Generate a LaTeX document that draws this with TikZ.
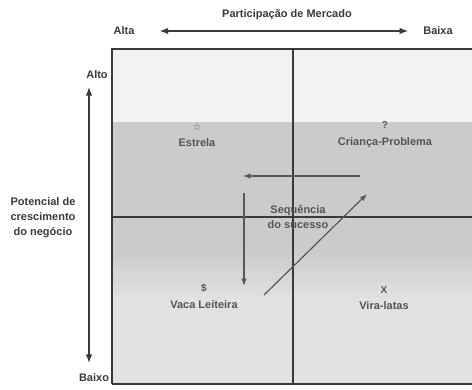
\documentclass[tikz,border=0pt]{standalone}
\usepackage{fontspec}
\setmainfont{Liberation Sans}
\newfontfamily\symfont{DejaVu Sans}
\usepackage{xcolor}
\usetikzlibrary{arrows.meta,positioning}
\definecolor{bandtop}{HTML}{F2F2F2}
\definecolor{bandmid}{HTML}{CBCBCB}
\definecolor{bandlow}{HTML}{E2E2E2}
\definecolor{darkgray}{HTML}{3A3A3A}
\definecolor{textgray}{HTML}{555555}
\tikzset{
  axislabel/.style={font=\bfseries\fontsize{11}{12}\selectfont,text=darkgray,inner sep=1pt},
  quadlabel/.style={font=\bfseries\fontsize{11}{12}\selectfont,text=textgray,align=center,inner sep=1pt},
  quadmark/.style={font=\bfseries\fontsize{10}{11}\selectfont,text=textgray,inner sep=1pt},
  axisarrow/.style={{Latex[length=3mm]}-{Latex[length=3mm]},line width=1.2pt,draw=darkgray},
  flowarrow/.style={-{Latex[length=2.6mm]},line width=1.2pt,draw=darkgray!85},
  gridline/.style={draw=darkgray,line width=1.2pt}
}
\begin{document}
\begin{tikzpicture}[x=1pt,y=-1pt]
\useasboundingbox (0,0) rectangle (472,390);
% bands
\fill[bandtop] (112,49) rectangle (472,122);
\fill[bandmid] (112,122) rectangle (472,250);
\shade[top color=bandmid,bottom color=bandlow] (112,250) rectangle (472,300);
\fill[bandlow] (112,300) rectangle (472,384);
% frame
\draw[gridline] (472,49) -- (112,49) -- (112,384);
\draw[draw=darkgray,line width=2.2pt] (112,384) -- (472,384);
\draw[gridline] (112,217) -- (472,217);
\draw[gridline] (293,49) -- (293,384);
% market share axis
\node[axislabel] (title) at (287,15) {Participação de Mercado};
\node[axislabel] (alta) at (124,31) {Alta};
\node[axislabel] (baixa) at (438,31) {Baixa};
\draw[axisarrow] (alta) -- (baixa) [shorten <=24pt,shorten >=14pt];
% growth axis
\node[axislabel] (alto) at (97,75) {Alto};
\node[axislabel] (baixo) at (94,378) {Baixo};
\coordinate (vtop) at (89,87);
\coordinate (vbot) at (89,363);
\draw[axisarrow] (vtop) -- (vbot);
\node[axislabel,align=center,font=\bfseries\fontsize{11}{15}\selectfont] (growth) at (43,218)
  {Potencial de\\crescimento\\do negócio};
% quadrants
\node[quadmark] (starmark) at (197,127) {\symfont ☆};
\node[quadlabel] (estrela) at (197,143) {Estrela};
\node[quadmark] (qmark) at (385,125) {?};
\node[quadlabel] (crianca) at (385,143) {Criança-Problema};
\node[quadmark] (dmark) at (204,288) {\$};
\node[quadlabel] (vaca) at (204,305) {Vaca Leiteira};
\node[quadmark] (xmark) at (384,290) {X};
\node[quadlabel] (viralata) at (384,306) {Vira-latas};
\node[quadlabel,font=\bfseries\fontsize{11}{15}\selectfont] (seq) at (298,217) {Sequência\\do sucesso};
% success sequence
\coordinate (h1) at (360,176);
\coordinate (h2) at (243,176);
\coordinate (v1) at (244,193);
\coordinate (v2) at (244,286);
\coordinate (d1) at (264,295);
\coordinate (d2) at (367,194);
\draw[flowarrow] (h1) -- (h2);
\draw[flowarrow] (v1) -- (v2);
\draw[flowarrow] (d1) -- (d2);
\end{tikzpicture}
\end{document}
